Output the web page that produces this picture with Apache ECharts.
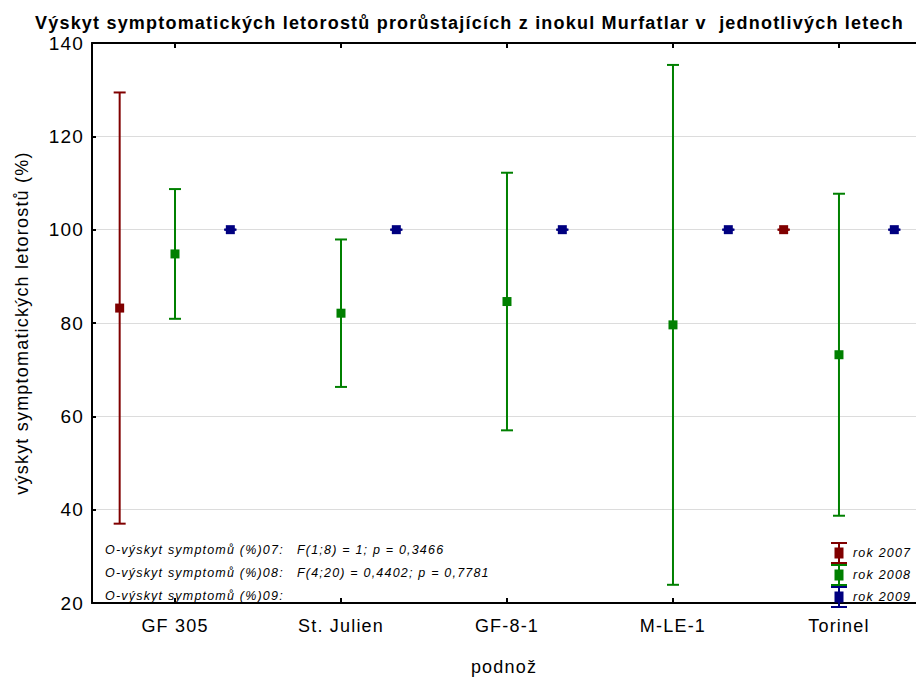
<!DOCTYPE html>
<html><head><meta charset="utf-8">
<script src="https://cdn.jsdelivr.net/npm/echarts@6/dist/echarts.min.js"></script>
<style>html,body{margin:0;padding:0;background:#fff}#c{width:916px;height:681px}#c text{letter-spacing:1.2px;white-space:pre;font-family:"Liberation Sans",Arial,sans-serif !important}</style>
</head><body><div id="c"></div>
<script>
const categories = ['GF 305', 'St. Julien', 'GF-8-1', 'M-LE-1', 'Torinel'];
const yTicks = [20, 40, 60, 80, 100, 120, 140];
// means and confidence limits per year (null = no data)
const mean2007 = [83.2, null, null, null, 100];
const low2007  = [37.0, null, null, null, 100];
const high2007 = [129.4, null, null, null, 100];
const mean2008 = [94.8, 82.1, 84.6, 79.6, 73.2];
const low2008  = [80.9, 66.3, 57.0, 23.9, 38.7];
const high2008 = [108.7, 97.9, 112.2, 135.3, 107.7];
const mean2009 = [100, 100, 100, 100, 100];
const low2009  = [100, 100, 100, 100, 100];
const high2009 = [100, 100, 100, 100, 100];
const seriesNames = ['rok 2007', 'rok 2008', 'rok 2009'];
const annotLeft = ['O-výskyt symptomů (%)07:', 'O-výskyt symptomů (%)08:', 'O-výskyt symptomů (%)09:'];
const annotRight = ['F(1;8) = 1; p = 0,3466', 'F(4;20) = 0,4402; p = 0,7781', ''];

const colors = ['#800000', '#008000', '#000080'];
const offsets = [-1/3, 0, 1/3];
const catPos = categories.map((c, i) => i + 1);

function buildData(m, lo, hi) {
  const out = [];
  m.forEach((v, i) => { if (v !== null) out.push([catPos[i], v, lo[i], hi[i]]); });
  return out;
}
const allData = [
  buildData(mean2007, low2007, high2007),
  buildData(mean2008, low2008, high2008),
  buildData(mean2009, low2009, high2009)
];

function makeRender(si) {
  return function (params, api) {
    const xv = api.value(0) + offsets[si];
    const c = api.coord([xv, api.value(1)]);
    const lo = api.coord([xv, api.value(2)]);
    const hi = api.coord([xv, api.value(3)]);
    const x = c[0];
    const cap = 6;
    const st = {stroke: colors[si], lineWidth: 2, fill: null};
    return {
      type: 'group',
      children: [
        {type: 'line', shape: {x1: x, y1: hi[1], x2: x, y2: lo[1]}, style: st},
        {type: 'line', shape: {x1: x - cap, y1: hi[1], x2: x + cap, y2: hi[1]}, style: st},
        {type: 'line', shape: {x1: x - cap, y1: lo[1], x2: x + cap, y2: lo[1]}, style: st},
        {type: 'rect', shape: {x: x - 4.5, y: c[1] - 4.5, width: 9, height: 9}, style: {fill: colors[si]}}
      ]
    };
  };
}

const chart = echarts.init(document.getElementById('c'), null, {renderer: 'svg'});
const FONT = '"Liberation Sans", Arial, sans-serif';
const icon = 'path://M0,0H16V2H0Z M7,2H9V20H7Z M3.5,5.5H12.5V16.5H3.5Z M0,20H16V22H0Z';

const graphics = [];
annotLeft.forEach((t, i) => {
  graphics.push({type: 'text', left: 105, top: 543 + i * 23,
    style: {text: t, font: 'italic 12.5px ' + FONT, fill: '#000'}});
  if (annotRight[i]) graphics.push({type: 'text', left: 297, top: 543 + i * 23,
    style: {text: annotRight[i], font: 'italic 12.5px ' + FONT, fill: '#000'}});
});

const tickCommon = {inside: true, length: 5, lineStyle: {color: '#000', width: 2}, customValues: catPos};

chart.setOption({
  animation: false,
  backgroundColor: '#fff',
  textStyle: {fontFamily: FONT},
  title: {
    text: 'Výskyt symptomatických letorostů prorůstajících z inokul Murfatlar v  jednotlivých letech',
    left: 30, top: 9,
    textStyle: {fontSize: 18, fontWeight: 'bold', color: '#000', fontFamily: FONT}
  },
  grid: {left: 92, top: 43, right: 0, bottom: 73, containLabel: false},
  legend: {
    orient: 'vertical', left: 831, top: 542, padding: 0, itemGap: 0, itemWidth: 16, itemHeight: 22,
    textStyle: {fontStyle: 'italic', fontSize: 12.5, color: '#000', fontFamily: FONT, padding: [0, 0, 0, 1]},
    data: seriesNames.map((n, i) => ({name: n, icon: icon, itemStyle: {color: colors[i]}}))
  },
  xAxis: [{
    type: 'value', min: 0.5, max: 5.464,
    splitLine: {show: false},
    axisLine: {show: true, onZero: false, lineStyle: {color: '#000', width: 2}},
    axisTick: Object.assign({show: true}, tickCommon),
    axisLabel: {fontSize: 18, color: '#000', margin: 14, fontFamily: FONT, customValues: catPos,
      formatter: v => categories[Math.round(v) - 1] || ''},
    name: 'podnož', nameLocation: 'middle', nameGap: 55,
    nameTextStyle: {fontSize: 18, color: '#000', fontFamily: FONT}
  }, {
    type: 'value', min: 0.5, max: 5.464, position: 'top',
    splitLine: {show: false},
    axisLine: {show: true, onZero: false, lineStyle: {color: '#000', width: 2}},
    axisTick: Object.assign({show: true}, tickCommon),
    axisLabel: {show: false}
  }],
  yAxis: {
    type: 'value', min: yTicks[0], max: yTicks[yTicks.length - 1], interval: 20,
    axisLine: {show: true, lineStyle: {color: '#000', width: 2}},
    axisTick: {show: true, inside: true, length: 4, lineStyle: {color: '#000', width: 2}},
    axisLabel: {fontSize: 19, color: '#000', margin: 8, fontFamily: FONT},
    splitLine: {lineStyle: {color: '#dcdcdc', width: 1}},
    name: 'výskyt symptomatických letorostů (%)', nameLocation: 'middle', nameGap: 61,
    nameTextStyle: {fontSize: 18, color: '#000', fontFamily: FONT}
  },
  graphic: graphics,
  series: seriesNames.map((n, i) => ({
    type: 'custom', name: n, renderItem: makeRender(i), data: allData[i],
    itemStyle: {color: colors[i]}, encode: {x: 0, y: [1, 2, 3]}, clip: false
  }))
});
</script></body></html>
